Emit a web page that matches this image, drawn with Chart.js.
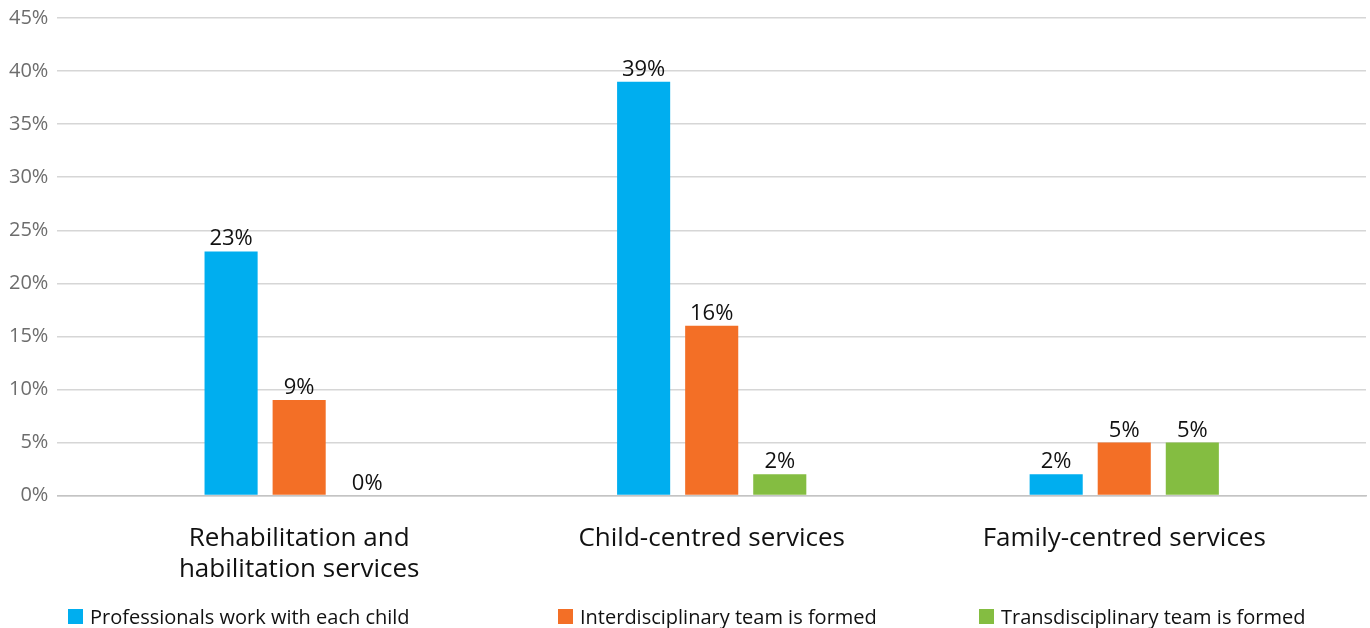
<!DOCTYPE html>
<html>
<head>
<meta charset="utf-8">
<script src="https://cdn.jsdelivr.net/npm/chart.js@4"></script>
<style>
  html, body { margin: 0; padding: 0; background: #fff; }
  #wrap { width: 1370px; height: 628px; position: relative; }
  #leyenda {
    position: absolute; left: 68px; top: 603px;
    display: flex; font: 20px "Open Sans", sans-serif; color: #111;
  }
  #leyenda .item { display: flex; align-items: center; }
  #leyenda .item:nth-child(1) { width: 490px; }
  #leyenda .item:nth-child(2) { width: 421px; }
  #leyenda .caja { width: 15px; height: 15px; margin-right: 7px; }
</style>
</head>
<body>
<div id="wrap">
  <canvas id="grafico"></canvas>
  <div id="leyenda"></div>
</div>
<script>
const categorias = [['Rehabilitation and', 'habilitation services'], 'Child-centred services', 'Family-centred services'];
const series = ['Professionals work with each child', 'Interdisciplinary team is formed', 'Transdisciplinary team is formed'];
const profesionales = [23, 39, 2];
const interdisciplinario = [9, 16, 5];
const transdisciplinario = [0, 2, 5];
const ticksY = [0, 5, 10, 15, 20, 25, 30, 35, 40, 45];
const colores = ['#00aeef', '#f36f26', '#84bd41'];

const fuente = '"Open Sans", sans-serif';

// cada grupo va en una posicion 1, 2, 3 del eje x
const aPuntos = valores => valores.map((v, i) => ({ x: i + 1, y: v }));

// escribe el porcentaje encima de cada barra
const etiquetas = {
  id: 'etiquetas',
  afterDatasetsDraw(chart) {
    const ctx = chart.ctx;
    ctx.save();
    ctx.font = '22px ' + fuente;
    ctx.fillStyle = '#111';
    ctx.textAlign = 'center';
    ctx.textBaseline = 'alphabetic';
    chart.data.datasets.forEach((ds, i) => {
      chart.getDatasetMeta(i).data.forEach((bar, j) => {
        ctx.fillText(ds.data[j].y + '%', bar.x, bar.y - 6);
      });
    });
    ctx.restore();
  }
};

const chart = new Chart(document.getElementById('grafico'), {
  type: 'bar',
  data: {
    datasets: [profesionales, interdisciplinario, transdisciplinario].map((valores, i) => ({
      label: series[i],
      data: aPuntos(valores),
      backgroundColor: colores[i],
      categoryPercentage: 0.495,
      barPercentage: 0.78
    }))
  },
  options: {
    responsive: true,
    maintainAspectRatio: false,
    animation: false,
    layout: { padding: { top: 7, right: 4, left: 0, bottom: 24 } },
    plugins: {
      tooltip: { enabled: false },
      legend: { display: false }
    },
    scales: {
      x: {
        type: 'linear',
        offset: false,
        min: 0.414,
        max: 3.586,
        afterBuildTicks: scale => { scale.ticks = [1, 2, 3].map(v => ({ value: v })); },
        grid: { display: false },
        border: { display: true, color: '#c4c4c4', width: 1.5 },
        ticks: {
          autoSkip: false,
          maxRotation: 0,
          padding: 19,
          color: '#111',
          font: { family: fuente, size: 26, lineHeight: 1.2 },
          callback: v => categorias[v - 1]
        }
      },
      y: {
        min: 0,
        max: 45,
        afterBuildTicks: scale => { scale.ticks = ticksY.map(v => ({ value: v })); },
        grid: { color: '#d6d6d6', lineWidth: 1.5, drawTicks: false },
        border: { display: false },
        ticks: {
          padding: 9,
          color: '#6d6d6d',
          font: { family: fuente, size: 20, lineHeight: 0.9 },
          callback: v => v + '%'
        }
      }
    }
  },
  plugins: [etiquetas]
});

// leyenda en html con los colores de cada serie
const leyenda = document.getElementById('leyenda');
chart.data.datasets.forEach(ds => {
  const item = document.createElement('div');
  item.className = 'item';
  const caja = document.createElement('span');
  caja.className = 'caja';
  caja.style.background = ds.backgroundColor;
  item.appendChild(caja);
  item.appendChild(document.createTextNode(ds.label));
  leyenda.appendChild(item);
});
</script>
</body>
</html>
